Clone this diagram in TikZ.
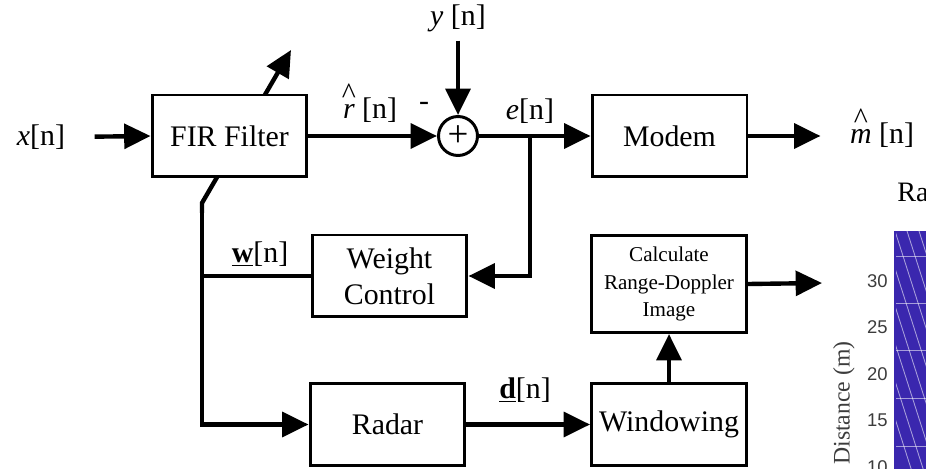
\documentclass[tikz,border=0pt]{standalone}
\usepackage{fontspec}
\setmainfont{Liberation Serif}
\newfontfamily\plotfont{Liberation Sans}
\usetikzlibrary{arrows.meta, positioning, calc, backgrounds}
\definecolor{PlotIndigo}{HTML}{3A27AE}
\definecolor{TickGray}{HTML}{3C3C3C}
\newcommand{\estim}[1]{\ooalign{\textit{#1}\cr\hidewidth\raisebox{0.5em}{\textasciicircum}\hidewidth\cr}}

\begin{document}
\begin{tikzpicture}[x=0.02cm, y=-0.02cm,
  block/.style={draw, line width=1.7pt, fill=white, inner sep=0pt, align=center,
    minimum width=3.1cm, minimum height=1.64cm, font=\fontsize{17}{20.5}\selectfont},
  sig/.style={line width=2.5pt, -{Triangle[length=15pt,width=14pt]}},
  wire/.style={line width=2.5pt},
  lbl/.style={inner sep=1pt, font=\fontsize{17}{20}\selectfont},
  tick/.style={anchor=east, inner sep=0pt, text=TickGray, font=\plotfont\fontsize{10.5}{11}\selectfont}]
  \useasboundingbox (0,0) rectangle (926,469);
  \clip (0,0) rectangle (926,469);

  % blocks of the loop
  \foreach \n/\x/\y/\t in {fir/229.5/136/FIR Filter, modem/669.5/136/Modem,
    weight/389.5/276/Weight\\Control, radar/387.5/424.5/Radar, window/669/424.5/Windowing}{
    \node[block] (\n) at (\x,\y) {\t};
  }
  \node[block, minimum height=1.94cm, font=\fontsize{12}{15.5}\selectfont] (calc) at (669,284)
    {Calculate\\Range-Doppler\\Image};
  \node[circle, draw, line width=1.7pt, minimum size=0.78cm, inner sep=0pt,
    font=\fontsize{21}{21}\selectfont] (sum) at (458,136) {\raisebox{-2.5pt}{+}};

  % signal labels
  \node[lbl] (xin) at (41,137) {\textit{x}[n]};
  \node[lbl] (ylab) at (458,18) {\textit{y} [n]};
  \node[lbl] (rhat) at (370,110) {\estim{r} [n]};
  \node[lbl] (minus) at (424,106) {-};
  \node[lbl] (elab) at (530,111) {\textit{e}[n]};
  \node[lbl, anchor=west] (mhat) at (848,135) {\estim{m} [n]};
  \node[lbl] (wlab) at (260,254) {\underline{\textbf{w}}[n]};
  \node[lbl] (dlab) at (525,390) {\underline{\textbf{d}}[n]};

  % connectors
  \coordinate (ej) at (530,136);
  \coordinate (adlo) at (202,203);
  \coordinate (adhi) at (291,50);
  \coordinate (imgout) at (822,283);
  \draw[sig, shorten <=0.55cm] (xin.east) -- (fir.west);
  \draw[sig] (fir.east) -- (sum.west);
  \draw[sig, shorten <=4pt] (ylab.south) -- (sum.north);
  \draw[sig] (sum.east) -- (modem.west);
  \draw[sig, shorten >=0.55cm] (modem.east) -- (modem.east -| mhat.west);
  \draw[sig] (ej) |- (weight.east);
  \begin{scope}[on background layer]
    \draw[wire, {Triangle[length=15pt,width=14pt]}-] (adhi) -- (adlo) -- ++(0,10);
  \end{scope}
  \draw[sig] (adlo) |- (radar.west);
  \draw[wire] (adlo |- weight.west) -- (weight.west);
  \draw[sig] (radar.east) -- (window.west);
  \draw[sig] (window.north) -- (calc.south);
  \draw[sig] (calc.east) -- (imgout);

  % cut-off image at the right
  \fill[PlotIndigo] (895,231) rectangle (940,480);
  \foreach \y in {256,303,350,398,446}{\draw[white, opacity=0.55, line width=0.5pt] (895,\y) -- (940,\y);}
  \foreach \s in {-60,-48,...,30}{\draw[white, opacity=0.55, line width=0.5pt] (895+\s,231) -- ++(80,250);}
  \draw[PlotIndigo, line width=1pt] (895,231) -- (895,480);
  \foreach \v/\y in {30/281,25/327,20/374,15/420,10/467}{\node[tick] at (888,\y) {\v};}
  \node[rotate=90, font=\fontsize{13.5}{14}\selectfont, text=TickGray] at (844,403) {Distance (m)};
  \node[anchor=west, inner sep=0pt, font=\fontsize{16}{16}\selectfont] at (897,195) {Range};
\end{tikzpicture}
\end{document}
